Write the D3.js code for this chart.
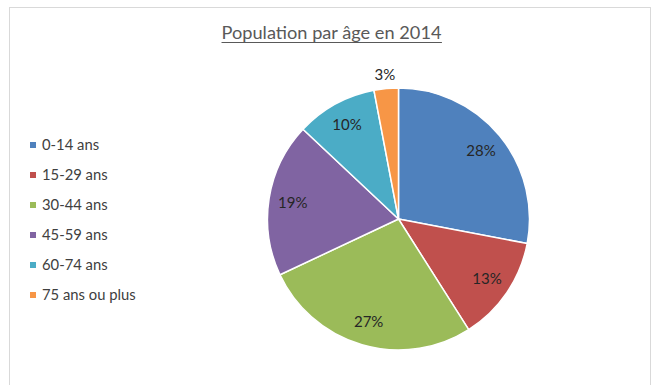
<!DOCTYPE html>
<html>
<head>
<meta charset="utf-8">
<script src="https://cdn.jsdelivr.net/npm/d3@7"></script>
<style>
  html, body { margin: 0; padding: 0; background: #fff; }
  svg { display: block; font-family: Lato, "Open Sans", sans-serif; }
</style>
</head>
<body>
<svg id="chart" width="654" height="385"></svg>
<script>
// Age groups and their share of the population (percent)
const categories = ["0-14 ans", "15-29 ans", "30-44 ans", "45-59 ans", "60-74 ans", "75 ans ou plus"];
const values = [28, 13, 27, 19, 10, 3];
const colors = ["#4F81BD", "#C0504D", "#9BBB59", "#8064A2", "#4BACC6", "#F79646"];
const title = "Population par âge en 2014";

const svg = d3.select("#chart");

// Chart frame
svg.append("rect")
  .attr("x", 9.5).attr("y", 7.5)
  .attr("width", 641).attr("height", 390)
  .attr("fill", "#fff")
  .attr("stroke", "#d9d9d9")
  .attr("stroke-width", 1);

// Title (underlined)
const titleText = svg.append("text")
  .attr("x", 331.5).attr("y", 39)
  .attr("text-anchor", "middle")
  .attr("font-size", 18.2)
  .attr("fill", "#595959")
  .text(title);
const tb = titleText.node().getBBox();
svg.append("line")
  .attr("x1", tb.x).attr("x2", tb.x + tb.width)
  .attr("y1", 42.5).attr("y2", 42.5)
  .attr("stroke", "#595959").attr("stroke-width", 1);

// Pie
const cx = 398.5, cy = 219, r = 131;
const pie = d3.pie().sort(null).value(d => d.value);
const arcs = pie(categories.map((c, i) => ({ label: c, value: values[i], color: colors[i] })));
const arc = d3.arc().innerRadius(0).outerRadius(r);
const labelArc = d3.arc().innerRadius(107).outerRadius(107);
const outerLabelArc = d3.arc().innerRadius(r + 14).outerRadius(r + 14);

const g = svg.append("g").attr("transform", `translate(${cx},${cy})`);
g.selectAll("path.slice")
  .data(arcs)
  .join("path")
  .attr("class", "slice")
  .attr("d", arc)
  .attr("fill", d => d.data.color)
  .attr("stroke", "#fff")
  .attr("stroke-width", 1.5)
  .attr("stroke-linejoin", "round");

g.selectAll("text.val")
  .data(arcs)
  .join("text")
  .attr("class", "val")
  .attr("transform", d => `translate(${(d.data.value < 5 ? outerLabelArc : labelArc).centroid(d)})`)
  .attr("text-anchor", "middle")
  .attr("dy", "0.35em")
  .attr("font-size", 15)
  .attr("fill", "#262626")
  .text(d => d.data.value + "%");

// Legend
const legend = svg.append("g").attr("transform", "translate(30,145)");
const item = legend.selectAll("g")
  .data(categories)
  .join("g")
  .attr("transform", (d, i) => `translate(0,${i * 30})`);
item.append("rect")
  .attr("x", 0).attr("y", -3)
  .attr("width", 6).attr("height", 6)
  .attr("fill", (d, i) => colors[i]);
item.append("text")
  .attr("x", 12).attr("y", 0)
  .attr("dy", "0.35em")
  .attr("font-size", 14.8)
  .attr("fill", "#404040")
  .text(d => d);
</script>
</body>
</html>
